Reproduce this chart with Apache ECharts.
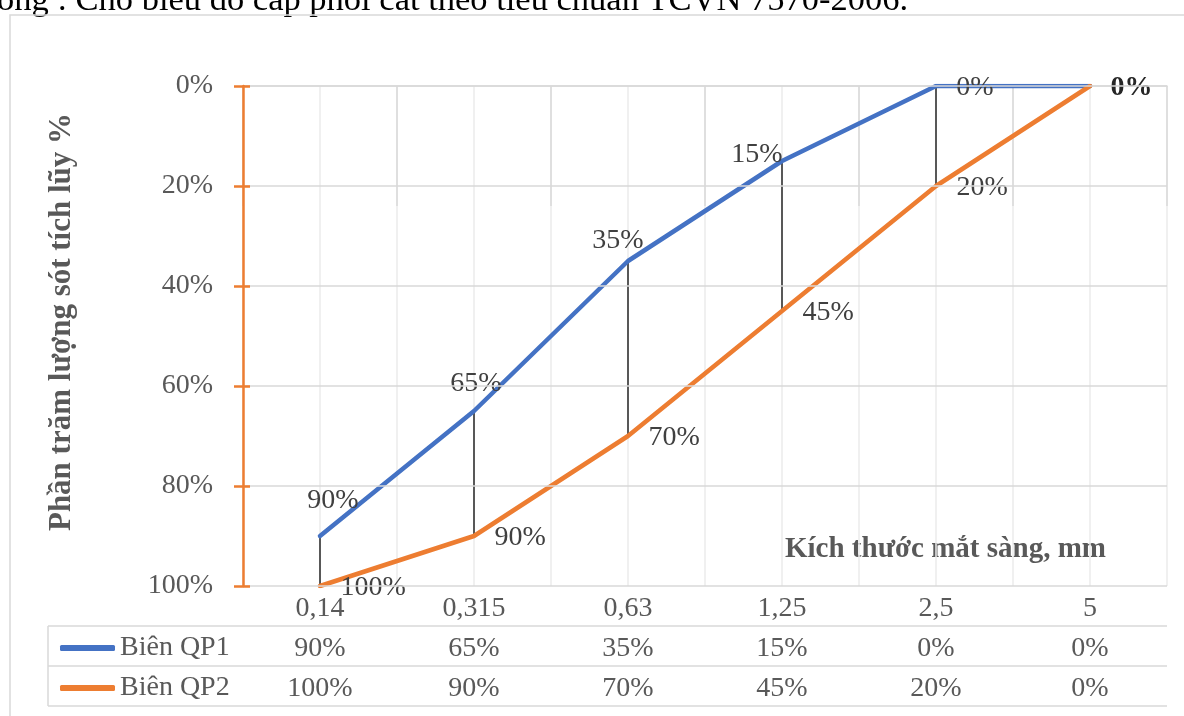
<!DOCTYPE html>
<html>
<head>
<meta charset="utf-8">
<script src="https://cdn.jsdelivr.net/npm/echarts@6/dist/echarts.min.js"></script>
<style>
  html, body { margin: 0; padding: 0; background: #fff; }
  #chart { width: 1184px; height: 716px; }
</style>
</head>
<body>
<div id="chart"></div>
<script>
// data
var categories = ['0,14', '0,315', '0,63', '1,25', '2,5', '5'];
var qp1 = [90, 65, 35, 15, 0, 0];   // Biên QP1
var qp2 = [100, 90, 70, 45, 20, 0]; // Biên QP2
var seriesNames = ['Biên QP1', 'Biên QP2'];
var yMin = 0, yMax = 100, yStep = 20;

var FONT = '"Liberation Serif", "Times New Roman", serif';
var FS = 28;
var GRAY = '#595959';
var LINE = '#d9d9d9';
var ORANGE = '#ED7D31', BLUE = '#4472C4';
// plot box (px)
var L = 243, T = 86, R = 1167, B = 586;
var ROW = 40;

// label nudges for the blue series (Excel put them by hand)
var qp1Shift = [[13, -16], [2, -8], [-10, -1], [-25, 13], [39, 21], null];

var chart = echarts.init(document.getElementById('chart'));

var qp1Data = qp1.map(function (v, i) {
    var s = qp1Shift[i];
    return {
        value: v,
        label: s ? { show: true, offset: s } : { show: false }
    };
});
var qp2Data = qp2.map(function (v, i) {
    var last = i === qp2.length - 1;
    return {
        value: v,
        label: last ? { fontWeight: 'bold', color: '#262626' } : {}
    };
});

var labelStyle = { fontSize: FS, fontFamily: FONT, color: GRAY };
function hline(y) {
    return { type: 'line', z: 10, shape: { x1: 48, y1: y, x2: R, y2: y }, style: { stroke: LINE, lineWidth: 1.5 } };
}

var option = {
    animation: false,
    grid: { left: L, top: T, right: 1184 - R, bottom: 716 - B },
    legend: {
        data: seriesNames,
        orient: 'vertical',
        left: 60,
        top: 634,
        padding: 0,
        itemGap: 12,
        itemWidth: 55,
        itemHeight: 6,
        icon: 'roundRect',
        textStyle: { fontSize: FS, fontFamily: FONT, color: GRAY, lineHeight: 28 }
    },
    xAxis: [
        {
            type: 'category',
            data: categories,
            boundaryGap: true,
            axisLine: { lineStyle: { color: LINE, width: 1.5 } },
            axisTick: { show: true, length: ROW * 3, lineStyle: { color: LINE, width: 1.5 } },
            axisLabel: Object.assign({ margin: 9 }, labelStyle),
            splitLine: { show: false }
        },
        {
            type: 'category',
            data: qp1.map(function (v) { return v + '%'; }),
            position: 'bottom',
            offset: ROW,
            axisLine: { show: false },
            axisTick: { show: false },
            axisLabel: Object.assign({ margin: 9 }, labelStyle)
        },
        {
            type: 'category',
            data: qp2.map(function (v) { return v + '%'; }),
            position: 'bottom',
            offset: ROW * 2,
            axisLine: { show: false },
            axisTick: { show: false },
            axisLabel: Object.assign({ margin: 9 }, labelStyle)
        }
    ],
    yAxis: [
        {
            type: 'value',
            inverse: true,
            min: yMin,
            max: yMax,
            interval: yStep,
            z: 5,
            name: 'Phần trăm lượng sót tích lũy %',
            nameLocation: 'middle',
            nameGap: 166,
            nameRotate: 90,
            nameTextStyle: { fontSize: 31, fontFamily: FONT, color: GRAY, fontWeight: 'bold', padding: [0, 0, 0, 28] },
            axisLine: { show: true, lineStyle: { color: ORANGE, width: 2.5 } },
            axisTick: { show: true, length: 9, lineStyle: { color: ORANGE, width: 2.5 } },
            axisLabel: Object.assign({ margin: 30, formatter: '{value}%', padding: [4, 0, 0, 0] }, labelStyle),
            splitLine: { show: true, lineStyle: { color: LINE, width: 1.5 } }
        },
        {
            type: 'value',
            inverse: true,
            position: 'left',
            min: yMin,
            max: yMax,
            interval: yStep,
            z: 5,
            axisLine: { show: false },
            axisTick: { show: true, inside: true, length: 7, lineStyle: { color: ORANGE, width: 2.5 } },
            axisLabel: { show: false },
            splitLine: { show: false }
        }
    ],
    graphic: [
        {
            type: 'text', x: -3, y: 18,
            style: { text: 'ong : Cho biểu đồ cấp phối cát theo tiêu chuẩn TCVN 7570-2006.', font: '34.5px ' + FONT, fill: '#000', verticalAlign: 'bottom' }
        },
        {
            type: 'rect', shape: { x: 10, y: 15, width: 1200, height: 720 },
            style: { fill: null, stroke: LINE, lineWidth: 1.5 }, silent: true
        },
        {
            type: 'text', right: 1184 - 1106, top: 535,
            style: { text: 'Kích thước mắt sàng, mm', font: 'bold 29px ' + FONT, fill: GRAY }
        },
        hline(B + ROW), hline(B + ROW * 2), hline(B + ROW * 3),
        { type: 'line', z: 10, shape: { x1: 48, y1: B + ROW, x2: 48, y2: B + ROW * 3 }, style: { stroke: LINE, lineWidth: 1.5 } }
    ],
    series: [
        {
            // light vertical grid: at each category centre and each boundary
            type: 'custom',
            z: 0,
            silent: true,
            encode: { x: 0, y: 1 },
            data: categories.map(function (c, i) { return [i, yMin]; }),
            renderItem: function (params, api) {
                var cs = params.coordSys;
                var cx = api.coord([api.value(0), yMin])[0];
                var bw = api.size([1, 0])[0];
                var xs = [cx, cx - bw / 2];
                if (params.dataIndex === categories.length - 1) xs.push(cx + bw / 2);
                return {
                    type: 'group',
                    children: xs.map(function (x) {
                        return {
                            type: 'line',
                            shape: { x1: x, y1: cs.y, x2: x, y2: cs.y + cs.height },
                            style: { stroke: '#ebebeb', lineWidth: 1.5 }
                        };
                    })
                };
            }
        },
        {
            // drop lines between the two curves
            type: 'custom',
            z: 1,
            silent: true,
            encode: { x: 0, y: [1, 2] },
            data: categories.map(function (c, i) { return [i, qp1[i], qp2[i]]; }),
            renderItem: function (params, api) {
                var a = api.coord([api.value(0), api.value(1)]);
                var b = api.coord([api.value(0), api.value(2)]);
                return {
                    type: 'line',
                    shape: { x1: a[0], y1: a[1], x2: b[0], y2: b[1] },
                    style: { stroke: '#262626', lineWidth: 1.5 }
                };
            }
        },
        {
            name: seriesNames[0],
            type: 'line',
            data: qp1Data,
            symbol: 'circle',
            symbolSize: 1,
            itemStyle: { color: BLUE },
            lineStyle: { color: BLUE, width: 4.5, cap: 'round', join: 'round' },
            label: { show: true, position: 'top', distance: 5, formatter: '{c}%', fontSize: FS, fontFamily: FONT, color: '#404040' }
        },
        {
            name: seriesNames[1],
            type: 'line',
            data: qp2Data,
            symbol: 'circle',
            symbolSize: 1,
            itemStyle: { color: ORANGE },
            lineStyle: { color: ORANGE, width: 4.5, cap: 'round', join: 'round' },
            label: { show: true, position: 'right', distance: 20, offset: [0, 2], formatter: '{c}%', fontSize: FS, fontFamily: FONT, color: '#404040' }
        }
    ]
};

chart.setOption(option);
</script>
</body>
</html>
